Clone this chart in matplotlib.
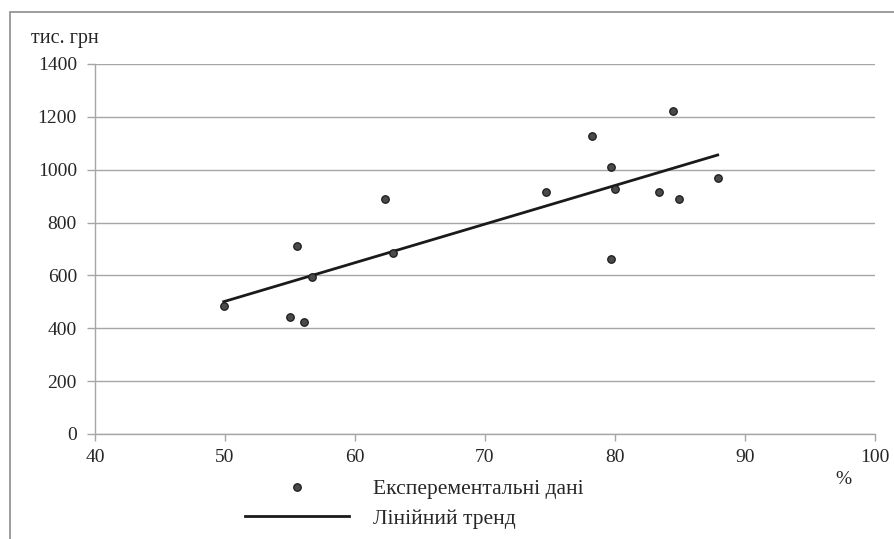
import numpy as np
import matplotlib
matplotlib.use('Agg')
import matplotlib.pyplot as plt
from matplotlib.patches import Rectangle

share_pct = [49.9, 55.0, 55.5, 56.1, 56.7, 62.3, 62.9, 74.7, 78.2,
             79.7, 79.7, 80.0, 83.4, 84.5, 84.9, 87.9]
value_th = [484, 443, 711, 425, 595, 888, 686, 917, 1129,
            1011, 663, 927, 914, 1223, 889, 970]

x_ticks = [40, 50, 60, 70, 80, 90, 100]
y_ticks = [0, 200, 400, 600, 800, 1000, 1200, 1400]

y_label = 'тис. грн'
x_label = '%'
label_points = 'Експерементальні дані'
label_trend = 'Лінійний тренд'

plt.rcParams['font.family'] = ['Liberation Serif', 'DejaVu Serif']
text_col = '#262626'
grid_col = '#a6a6a6'

W, H = 895, 539
fig = plt.figure(figsize=(W / 100, H / 100), dpi=100)
ax = fig.add_axes([95 / W, 1 - 434 / H, 780 / W, 370 / H])

# outer chart frame (cut at right and bottom like the original)
fig.patches.append(Rectangle((10 / W, -0.1), 1.2, 1 - 12 / H + 0.1,
                             transform=fig.transFigure, fill=False,
                             edgecolor='#8c8c8c', linewidth=1.2))

x = np.array(share_pct)
y = np.array(value_th)
k, b = np.polyfit(x, y, 1)
xt = np.array([x.min(), x.max()])

ax.plot(x, y, linestyle='none', marker='o', markersize=5.4,
        markerfacecolor='#4a4a4a', markeredgecolor='#1a1a1a',
        markeredgewidth=0.9, label=label_points, zorder=3)
ax.plot(xt, k * xt + b, color='#1a1a1a', linewidth=2.0,
        label=label_trend, zorder=2)

ax.set_xlim(40, 100)
ax.set_ylim(0, 1400)
ax.set_xticks(x_ticks)
ax.set_yticks(y_ticks)
ax.yaxis.grid(True, color=grid_col, linewidth=1.0)
ax.set_axisbelow(True)

for s in ['top', 'right']:
    ax.spines[s].set_visible(False)
for s in ['left', 'bottom']:
    ax.spines[s].set_color(grid_col)
    ax.spines[s].set_linewidth(1.0)

ax.tick_params(axis='both', colors=grid_col, labelcolor=text_col,
               labelsize=14, width=1.0)
ax.tick_params(axis='x', length=5, pad=6)
ax.tick_params(axis='y', length=6, pad=7)

fig.text(31 / W, 1 - 39 / H, y_label, fontsize=14.5, color=text_col,
         ha='left', va='center')
fig.text(843 / W, 1 - 479 / H, x_label, fontsize=14, color=text_col,
         ha='center', va='center')

fig.legend(loc='upper left', bbox_to_anchor=(245 / W, 1 - 479 / H),
           frameon=False, fontsize=15.5, labelcolor=text_col,
           handlelength=4.85, handletextpad=1.1, labelspacing=0.45,
           borderpad=0, borderaxespad=0, numpoints=1)

fig.savefig('out.png', dpi=100)
